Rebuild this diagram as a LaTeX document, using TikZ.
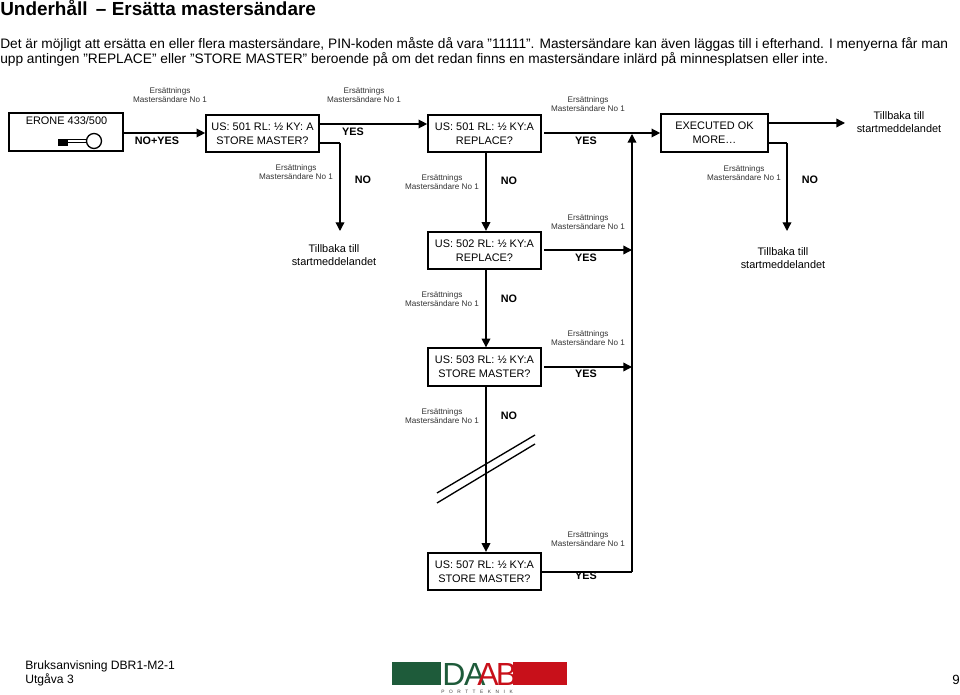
\documentclass[tikz,border=0pt]{standalone}
\usepackage{fontspec}
\setmainfont{Liberation Sans}
\usetikzlibrary{arrows.meta}
\definecolor{daabgreen}{HTML}{1E5B3A}
\definecolor{daabred}{HTML}{C8101A}
\tikzset{
 x=0.75pt,y=-0.75pt,
 flowbox/.style={draw,line width=1.5pt,minimum width=84.5pt,minimum height=28pt,inner sep=0pt,align=center,font=\fontsize{8.2}{10.2}\selectfont},
 wire/.style={line width=1pt},
 arrowwire/.style={line width=1pt,-{Triangle[length=6.5pt,width=6.5pt]}},
 capnote/.style={font=\fontsize{6.1}{7.2}\selectfont,align=center,text=black!80,inner sep=0pt},
 keylab/.style={font=\bfseries\fontsize{8.1}{10}\selectfont,inner sep=0pt},
 plaintxt/.style={font=\fontsize{8.2}{10}\selectfont,align=center,inner sep=0pt},
 body/.style={anchor=base west,inner sep=0pt,font=\fontsize{10.29}{12}\selectfont},
 foot/.style={anchor=base west,inner sep=0pt,font=\fontsize{9.1}{11}\selectfont},
}
\newcommand{\capt}{Ersättnings\\Mastersändare No 1}
\begin{document}
\begin{tikzpicture}
\useasboundingbox (0,0) rectangle (960,695);
\node[anchor=base west,inner sep=0pt,font=\bfseries\fontsize{14.2}{15}\selectfont] (title) at (0,15.5) {Underhåll \,– Ersätta mastersändare};
\node[body] (l1) at (0,49) {Det är möjligt att ersätta en eller flera mastersändare, PIN-koden måste då vara ”11111”. Mastersändare kan även läggas till i efterhand. I menyerna får man};
\node[body] (l2) at (0,64) {upp antingen ”REPLACE” eller ”STORE MASTER” beroende på om det redan finns en mastersändare inlärd på minnesplatsen eller inte.};
% boxes
\node[flowbox,minimum width=85.5pt,minimum height=28pt] (erone) at (66,132) {};
\node[plaintxt,anchor=base] (eronetxt) at (66.5,124.5) {ERONE 433/500};
\node[flowbox] (a) at (262.5,133.5) {US: 501 RL: ½ KY: A\\STORE MASTER?};
\node[flowbox] (b) at (484.5,133.5) {US: 501 RL: ½ KY:A\\REPLACE?};
\node[flowbox,minimum width=80pt] (c) at (714.5,133) {EXECUTED OK\\MORE…};
\node[flowbox] (d) at (484.5,250.5) {US: 502 RL: ½ KY:A\\REPLACE?};
\node[flowbox] (e) at (484.5,367) {US: 503 RL: ½ KY:A\\STORE MASTER?};
\node[flowbox] (f) at (484.5,571.5) {US: 507 RL: ½ KY:A\\STORE MASTER?};
% end texts
\node[plaintxt] (t1) at (899,122) {Tillbaka till\\startmeddelandet};
\node[plaintxt] (t2) at (334,255) {Tillbaka till\\startmeddelandet};
\node[plaintxt] (t3) at (783,258) {Tillbaka till\\startmeddelandet};
% key
\draw[line width=1pt,fill=white] (94,141) circle (7.5);
\draw[line width=1pt] (58,139.5) -- (86.5,139.5) (58,142.5) -- (86.5,142.5);
\fill (58,139) rectangle (68,146);
% junction points
\coordinate (j1) at (340,143);
\coordinate (j2) at (787,143);
\coordinate (j3) at (632,572);
% connectors
\draw[arrowwire] (erone.east |- 0,133) -- (a.west |- 0,133);
\draw[arrowwire] (a.east |- 0,124) -- (b.west |- 0,124);
\draw[wire] (a.east |- j1) -- (j1);
\draw[arrowwire] (j1) -- (340,231);
\draw[arrowwire] (544,133) -- (c.west |- 0,133);
\draw[arrowwire] (b.south -| 486,0) -- (d.north -| 486,0);
\draw[arrowwire] (c.east |- 0,123) -- (845,123);
\draw[wire] (c.east |- j2) -- (j2);
\draw[arrowwire] (j2) -- (787,231);
\draw[arrowwire] (d.south -| 486,0) -- (e.north -| 486,0);
\draw[arrowwire] (e.south -| 486,0) -- (f.north -| 486,0);
\draw[arrowwire] (544,250) -- (632,250);
\draw[arrowwire] (544,367) -- (632,367);
\draw[wire] (f.east |- j3) -- (j3);
\draw[arrowwire] (j3) -- (632,134);
\draw[wire] (437,493) -- (535,435) (437,503) -- (535,444);
% captions
\node[capnote] (c1) at (170,95) {\capt};
\node[capnote] (c2) at (364,95) {\capt};
\node[capnote] (c3) at (588,104) {\capt};
\node[capnote] (c4) at (296,172) {\capt};
\node[capnote] (c5) at (442,182) {\capt};
\node[capnote] (c6) at (744,173) {\capt};
\node[capnote] (c7) at (588,222) {\capt};
\node[capnote] (c8) at (442,299) {\capt};
\node[capnote] (c9) at (588,338) {\capt};
\node[capnote] (c10) at (442,416) {\capt};
\node[capnote] (c11) at (588,539) {\capt};
% keys
\node[keylab] (k1) at (157,141) {NO+YES};
\node[keylab] (k2) at (353,132) {YES};
\node[keylab] (k3) at (586,141) {YES};
\node[keylab] (k4) at (363,180) {NO};
\node[keylab] (k5) at (509,181) {NO};
\node[keylab] (k6) at (810,180) {NO};
\node[keylab] (k7) at (586,258) {YES};
\node[keylab] (k8) at (509,299) {NO};
\node[keylab] (k9) at (586,374) {YES};
\node[keylab] (k10) at (509,416) {NO};
\node[keylab] (k11) at (586,576) {YES};
% footer
\node[foot] (f1) at (25,669) {Bruksanvisning DBR1-M2-1};
\node[foot] (f2) at (25,683) {Utgåva 3};
\node[anchor=base east,inner sep=0pt,font=\fontsize{10}{12}\selectfont] (pg) at (960,684) {9};
% logo
\fill[daabgreen] (392,662) rectangle (441,685);
\fill[daabred] (513,662) rectangle (567,685);
\node[anchor=base west,inner sep=0pt,font=\fontsize{24}{24}\selectfont] (logo) at (442,685) {\textcolor{daabgreen}{D\kern-1pt A}\kern-6pt\textcolor{daabred}{A\kern-2.2pt B}};
\node[anchor=base,inner sep=0pt,text=black!75,font=\fontsize{3.6}{4}\selectfont] (lp) at (477,693) {P\hspace{3.4pt}O\hspace{3.4pt}R\hspace{3.4pt}T\hspace{3.4pt}T\hspace{3.4pt}E\hspace{3.4pt}K\hspace{3.4pt}N\hspace{3.4pt}I\hspace{3.4pt}K};
\end{tikzpicture}
\end{document}
